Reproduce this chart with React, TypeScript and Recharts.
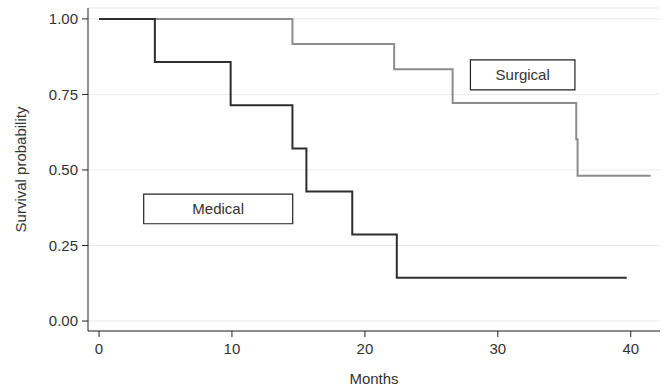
import { LineChart, Line, XAxis, YAxis, CartesianGrid, ReferenceArea, Label } from 'recharts'

// Kaplan-Meier estimates (months, survival)
const medicalMonths = [0, 4.2, 9.9, 14.55, 15.6, 19.05, 22.4, 39.7]
const medicalSurvival = [1, 0.857, 0.714, 0.571, 0.429, 0.286, 0.143, 0.143]

const surgicalMonths = [0, 14.55, 22.2, 26.6, 35.9, 36.0, 41.5]
const surgicalSurvival = [1, 0.917, 0.833, 0.722, 0.602, 0.481, 0.481]

const xTicks = [0, 10, 20, 30, 40]
const yTicks = [0, 0.25, 0.5, 0.75, 1]

const medical = medicalMonths.map((m, i) => ({ month: m, surv: medicalSurvival[i] }))
const surgical = surgicalMonths.map((m, i) => ({ month: m, surv: surgicalSurvival[i] }))

const FONT = '"Liberation Sans", Arial, sans-serif'
const TEXT = '#333'
const FS = 15

export default function App() {
  return (
    <div style={{ position: 'absolute', left: 0, top: 0, background: '#fff' }}>
      <LineChart width={667} height={386} margin={{ top: 8, right: 7, bottom: 0, left: 28 }}>
        <CartesianGrid vertical={false} stroke="#e9e9e9" />
        <XAxis
          dataKey="month"
          type="number"
          domain={[-0.83, 42.2]}
          ticks={xTicks}
          allowDataOverflow
          height={55}
          stroke="#222"
          tickSize={6}
          tickMargin={6}
          tick={{ fill: TEXT, fontSize: FS, fontFamily: FONT }}
        >
          <Label value="Months" position="insideBottom" offset={2} style={{ fill: TEXT, fontSize: FS, fontFamily: FONT }} />
        </XAxis>
        <YAxis
          type="number"
          domain={[-0.033, 1.036]}
          ticks={yTicks}
          allowDataOverflow
          width={60}
          stroke="#222"
          tickSize={6}
          tickMargin={4}
          tickFormatter={(v: number) => v.toFixed(2)}
          tick={{ fill: TEXT, fontSize: FS, fontFamily: FONT }}
        >
          <Label
            value="Survival probability"
            angle={-90}
            position="insideLeft"
            offset={-7}
            style={{ fill: TEXT, fontSize: FS, fontFamily: FONT, textAnchor: 'middle' }}
          />
        </YAxis>
        <ReferenceArea x1={3.36} x2={14.57} y1={0.322} y2={0.42} fill="#fff" fillOpacity={1} stroke="#222" strokeWidth={1.2}>
          <Label value="Medical" position="center" style={{ fill: TEXT, fontSize: FS, fontFamily: FONT }} />
        </ReferenceArea>
        <ReferenceArea x1={27.94} x2={35.8} y1={0.765} y2={0.864} fill="#fff" fillOpacity={1} stroke="#222" strokeWidth={1.2}>
          <Label value="Surgical" position="center" style={{ fill: TEXT, fontSize: FS, fontFamily: FONT }} />
        </ReferenceArea>
        <Line
          data={surgical}
          dataKey="surv"
          type="stepAfter"
          stroke="#8c8c8c"
          strokeWidth={2}
          dot={false}
          isAnimationActive={false}
        />
        <Line
          data={medical}
          dataKey="surv"
          type="stepAfter"
          stroke="#2e2e2e"
          strokeWidth={2}
          dot={false}
          isAnimationActive={false}
        />
      </LineChart>
    </div>
  )
}
